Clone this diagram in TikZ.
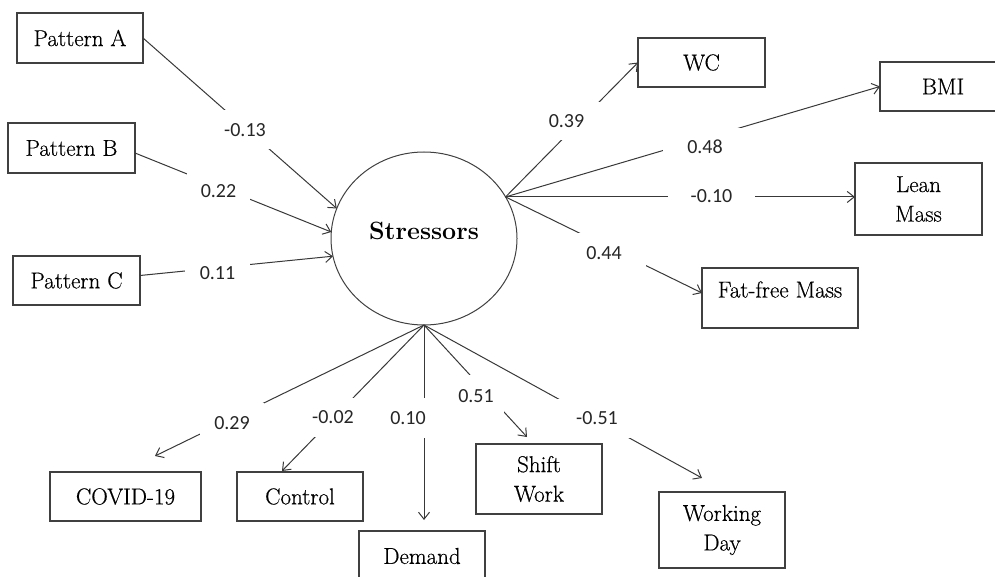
\documentclass[tikz,border=0pt]{standalone}
\usepackage{fontspec}
\newfontfamily\numfont{Carlito}
\newfontfamily\boxfont{Latin Modern Roman}[FakeBold=0.5]
\usetikzlibrary{arrows.meta,calc,shapes.geometric}

\begin{document}
\begin{tikzpicture}[x=1pt,y=-1pt,
  box/.style={draw=black!75, line width=1.1pt, inner sep=0pt, outer sep=0pt,
    align=center, font=\boxfont\fontsize{23}{29.5}\selectfont},
  coef/.style={fill=white, inner sep=0pt, minimum height=39pt,
    font=\numfont\fontsize{20}{24}\selectfont, text=black!85},
  link/.style={draw=black!78, line width=1pt,
    -{Straight Barb[length=7pt,width=11pt,line width=1pt]}},
]
\useasboundingbox (0,0) rectangle (995,577);
\clip (0,0) rectangle (995,577);

% latent factor (label set a little above the centre)
\node[ellipse, draw=black!75, line width=1pt, minimum width=186pt,
  minimum height=173pt, inner sep=0pt, outer sep=0pt, text height=17pt,
  text depth=15pt, font=\bfseries\fontsize{25}{29}\selectfont]
  (st) at (424,238.5) {Stressors};
\coordinate (rt) at (st.27);

% dietary patterns
\node[box, minimum width=126pt, minimum height=50pt] (pa) at (80,38) {Pattern A};
\node[box, minimum width=127pt, minimum height=50pt] (pb) at (71.5,148) {Pattern B};
\node[box, minimum width=127pt, minimum height=49pt] (pc) at (76.5,280.5) {Pattern C};

% body composition
\node[box, minimum width=127pt, minimum height=49pt] (wc) at (701.5,62.5) {WC};
\node[box, minimum width=126pt, minimum height=49pt] (bmi) at (943,86.5) {BMI};
\node[box, minimum width=127pt, minimum height=72pt] (ln) at (918.5,199) {Lean\\Mass};
\node[box, minimum width=156pt, minimum height=60pt, text height=15pt,
  text depth=16pt] (ff) at (780,298) {Fat-free Mass};

% work-related indicators
\node[box, minimum width=151pt, minimum height=49pt] (cv) at (125.5,496.5) {COVID-19};
\node[box, minimum width=126pt, minimum height=49pt] (ct) at (300,496.5) {Control};
\node[box, minimum width=126pt, minimum height=50pt] (dm) at (422,556) {Demand};
\node[box, minimum width=126pt, minimum height=70pt] (sw) at (539,479) {Shift\\Work};
\node[box, minimum width=126pt, minimum height=76pt] (wd) at (722,530) {Working\\Day};

% paths into the factor
\draw[link] (pa.east) -- (st.161.3);
\draw[link] ([yshift=-5pt]pb.east) -- (st.176.6);
\draw[link] ([yshift=5pt]pc.east) -- (st.191.4);

% paths out to the body measures
\draw[link] (rt) -- (wc.west);
\draw[link] (rt) -- (bmi.west);
\draw[link] (rt) -- (rt -| ln.west);
\draw[link] (rt) -- ([yshift=5pt]ff.west);

% paths out to the work indicators
\draw[link] (st.south) -- ($(cv.north)+(29.5,-16)$);
\draw[link] (st.south) -- ($(ct.north)+(-18,-1)$);
\draw[link] (st.south) -- ($(st.south |- dm.north)+(0,-11)$);
\draw[link] (st.south) -- ($(sw.north)+(-12,-7)$);
\draw[link] (st.south) -- ($(wd.north)+(-20,-14)$);

% coefficients
\node[coef, minimum width=90pt] (ca) at (245,130) {-0.13};
\node[coef, minimum width=63pt, minimum height=37pt] (cb) at (218.5,191.5) {0.22};
\node[coef, minimum width=65pt, minimum height=40pt] (cc) at (217.5,273) {0.11};
\node[coef, minimum width=83pt, minimum height=38pt] (cwc) at (566.5,121) {0.39};
\node[coef, minimum width=84pt, minimum height=37pt] (cbmi) at (705,146.5) {0.48};
\node[coef, minimum width=87pt, minimum height=40pt] (cln) at (711.5,196) {-0.10};
\node[coef, minimum width=84pt, minimum height=40pt] (cff) at (604,253) {0.44};
\node[coef, minimum width=64pt, minimum height=40pt] (ccv) at (232,423) {0.29};
\node[coef, minimum width=82pt] (cct) at (333,417.5) {-0.02};
\node[coef, minimum width=64pt, minimum height=40pt] (cdm) at (408,418) {0.10};
\node[coef, minimum width=56pt, minimum height=42pt] (csw) at (476,396) {0.51};
\node[coef, minimum width=86pt] (cwd) at (597,418.5) {-0.51};
\end{tikzpicture}
\end{document}
